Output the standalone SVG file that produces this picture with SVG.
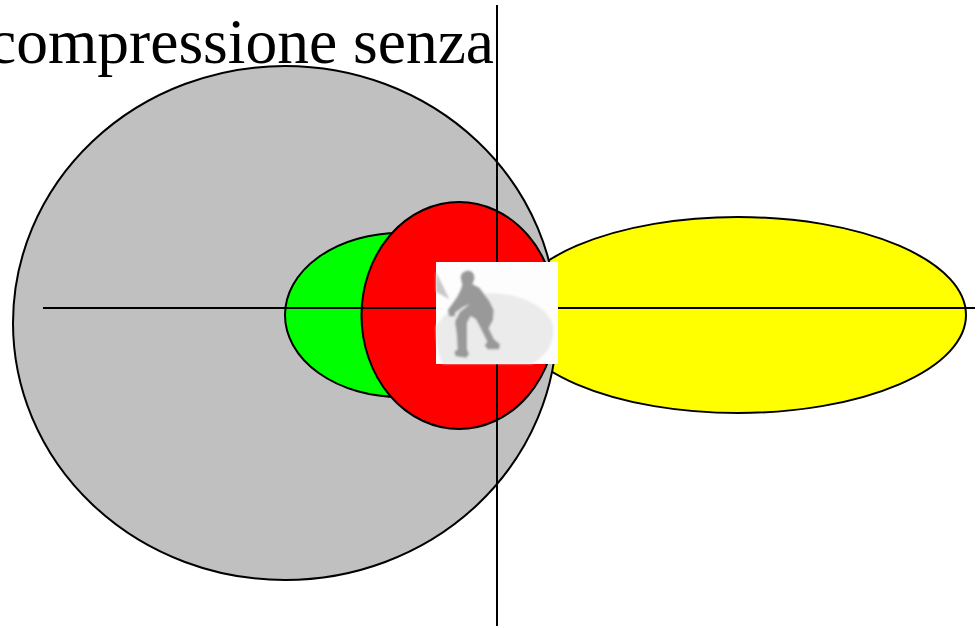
<svg xmlns="http://www.w3.org/2000/svg" width="977" height="628" viewBox="0 0 977 628">
<style>
.s{stroke:#000;stroke-width:2}
.t{font-family:"Liberation Serif","Times New Roman",serif;font-size:63.500px;fill:#000}
</style>
<defs><filter id="b" x="-10%" y="-10%" width="120%" height="120%"><feGaussianBlur stdDeviation="2.500"/></filter></defs>
<rect width="977" height="628" fill="#fff"/>
<g id="yellow-lobe"><ellipse class="s" cx="738" cy="315" rx="228" ry="98" fill="#ff0"/></g>
<g id="gray-lobe"><ellipse class="s" cx="285" cy="323" rx="272" ry="257" fill="#c0c0c0"/></g>
<g id="green-lobe"><ellipse class="s" cx="400" cy="315" rx="115" ry="82" fill="#0f0"/></g>
<g id="red-lobe"><ellipse class="s" cx="459" cy="315.500" rx="97.500" ry="113.500" fill="#f00"/></g>
<g id="connectors">
<line class="s" x1="43" y1="308" x2="975" y2="308"/>
<line class="s" x1="497" y1="5" x2="497" y2="626"/>
</g>
<g id="skater">
<rect x="436" y="262" width="122" height="102" fill="#fdfdfd"/>
<g transform="translate(420 250) scale(.3333)">
<g filter="url(#b)">
<path d="M48 228C90 170 150 130 215 130C310 130 400 180 400 240C400 290 370 325 335 341H70C55 325 48 280 48 228Z" fill="#ebebeb"/>
<path d="M48 65L88 148L48 125Z" fill="#c8c8c8"/>
<path d="M122 82C124 68 134 62 146 62C158 63 164 74 163 86L157 103L178 113L208 153L221 180L219 210L206 235L222 268L240 283L237 298H203L194 286L202 275L182 235L168 208L152 198L141 218V298L147 312L139 323L107 319L103 305L113 298L110 250L105 215L120 185L150 162L130 170L105 188V199H87L84 180L112 140L122 120L127 105Z" fill="#999"/>
</g>
</g>
</g>
<text class="t" x="-12" y="62.500">compressione senza</text>
</svg>
